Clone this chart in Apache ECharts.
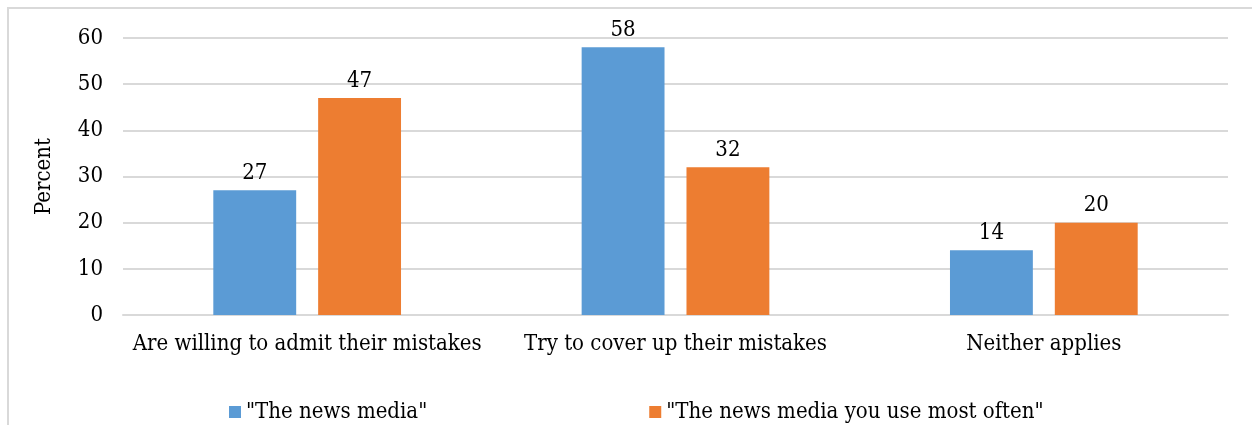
<!DOCTYPE html>
<html><head><meta charset="utf-8">
<script src="https://cdn.jsdelivr.net/npm/echarts@6/dist/echarts.min.js"></script>
<style>html,body{margin:0;padding:0;background:#fff}#c{width:1252px;height:425px}</style>
</head><body><div id="c"></div>
<script>
const categories = ['Are willing to admit their mistakes', 'Try to cover up their mistakes', 'Neither applies'];
const newsMedia = [27, 58, 14];
const newsMediaYouUse = [47, 32, 20];
const seriesNames = ['"The news media"', '"The news media you use most often"'];
const yTicks = {min: 0, max: 60, interval: 10};

const FONT = '"DejaVu Serif Condensed", "DejaVu Serif", serif';
const FS = 22;
const chart = echarts.init(document.getElementById('c'), null, {renderer: 'canvas'});
chart.setOption({
  animation: false,
  textStyle: {fontFamily: FONT, color: '#000'},
  graphic: [{type: 'rect', shape: {x: 8, y: 8, width: 1260, height: 430}, style: {fill: 'none', stroke: '#d9d9d9', lineWidth: 2}, silent: true}],
  grid: {left: 123, right: 24, top: 38, bottom: 110, containLabel: false},
  legend: {
    top: 396, left: 224, itemGap: 222, itemWidth: 12, itemHeight: 12,
    icon: 'rect',
    textStyle: {fontFamily: FONT, fontSize: FS, color: '#000'},
    data: seriesNames
  },
  xAxis: {
    type: 'category', data: categories,
    axisLine: {lineStyle: {color: '#d9d9d9', width: 2}},
    axisTick: {show: false},
    axisLabel: {interval: 0, fontFamily: FONT, fontSize: FS, color: '#000', margin: 18}
  },
  yAxis: {
    type: 'value', min: yTicks.min, max: yTicks.max, interval: yTicks.interval,
    name: 'Percent', nameLocation: 'middle', nameGap: 68, nameRotate: 90,
    nameTextStyle: {fontFamily: FONT, fontSize: FS, color: '#000'},
    axisLine: {show: false}, axisTick: {show: false},
    axisLabel: {fontFamily: FONT, fontSize: FS, color: '#000', margin: 20},
    splitLine: {lineStyle: {color: '#d9d9d9', width: 2}}
  },
  series: [
    {name: seriesNames[0], type: 'bar', data: newsMedia, barWidth: '22.5%', barGap: '26.5%',
     itemStyle: {color: '#5b9bd5'},
     label: {show: true, position: 'top', distance: 6, fontFamily: FONT, fontSize: FS, color: '#000'}},
    {name: seriesNames[1], type: 'bar', data: newsMediaYouUse, barWidth: '22.5%',
     itemStyle: {color: '#ed7d31'},
     label: {show: true, position: 'top', distance: 6, fontFamily: FONT, fontSize: FS, color: '#000'}}
  ]
});
</script></body></html>
